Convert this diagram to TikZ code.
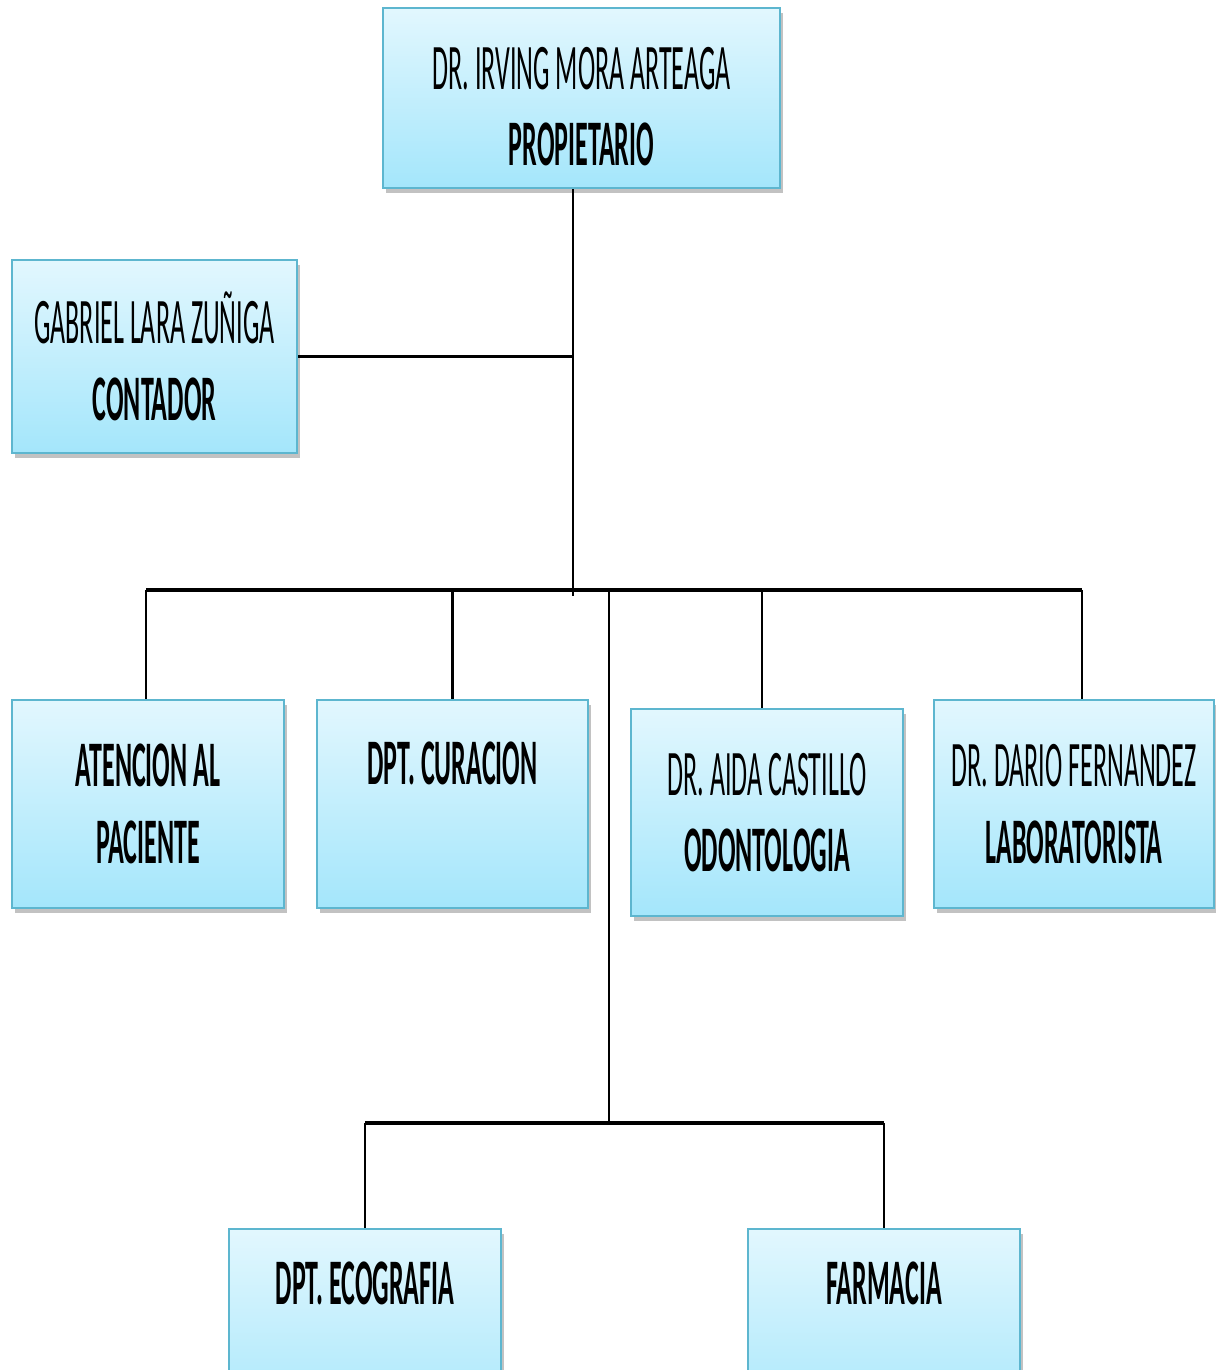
\documentclass[tikz,border=0pt]{standalone}
\usepackage{fontspec}
\setmainfont{Carlito}[FakeStretch=0.40]
\usetikzlibrary{shadows}

\definecolor{boxtop}{HTML}{E2F7FE}
\definecolor{boxbot}{HTML}{A4E6FB}
\definecolor{boxline}{HTML}{5DB6CF}

\tikzset{
  OrgBox/.style={draw=boxline,line width=1.2pt,top color=boxtop,bottom color=boxbot,
    drop shadow={shadow xshift=1.5pt,shadow yshift=-3pt,opacity=0.4,fill=black!60},
    align=center,inner sep=0pt,
    font=\fontsize{37pt}{43.5pt}\selectfont},
  EdgeStyle/.style={line width=1.4pt,black},
  BusStyle/.style={line width=2.2pt,black}
}

\begin{document}
\begin{tikzpicture}[x=0.02cm,y=-0.02cm]
  \useasboundingbox (0,0) rectangle (1216,1370);
  % boxes
  \node[OrgBox,minimum width=7.94cm,minimum height=3.6cm] (prop) at (581.5,98)
    {\rule{0pt}{1.2cm}DR. IRVING MORA ARTEAGA\\ \textbf{PROPIETARIO}};
  \node[OrgBox,minimum width=5.7cm,minimum height=3.86cm] (contador) at (154.5,356.5)
    {GABRIEL LARA ZU\~NIGA\\ \textbf{CONTADOR}};
  \node[OrgBox,minimum width=5.44cm,minimum height=4.16cm] (atencion) at (148,804)
    {\textbf{ATENCION AL}\\ \textbf{PACIENTE}};
  \node[OrgBox,minimum width=5.42cm,minimum height=4.16cm] (curacion) at (452.5,804)
    {\rule{0pt}{1.2cm}\textbf{DPT. CURACION}\\ \strut};
  \node[OrgBox,minimum width=5.44cm,minimum height=4.14cm] (odonto) at (767,812.5)
    {DR. AIDA CASTILLO\\ \textbf{ODONTOLOGIA}};
  \node[OrgBox,minimum width=5.6cm,minimum height=4.16cm] (lab) at (1074,804)
    {DR. DARIO FERNANDEZ\\ \textbf{LABORATORISTA}};
  \node[OrgBox,minimum width=5.44cm,minimum height=4.16cm] (eco) at (365,1333)
    {\textbf{DPT. ECOGRAFIA}\\ \strut};
  \node[OrgBox,minimum width=5.44cm,minimum height=4.16cm] (farm) at (884,1333)
    {\textbf{FARMACIA}\\ \strut};
  % connectors
  \coordinate (bus) at (573,590);
  \coordinate (busL) at (146,590);
  \coordinate (busR) at (1082,590);
  \coordinate (trunk) at (609,590);
  \coordinate (sub) at (609,1123);
  \draw[EdgeStyle] (prop.south -| bus) -- ([yshift=-0.12cm]bus);
  \draw[EdgeStyle] (contador.east) -- (contador.east -| bus);
  \draw[BusStyle] (busL) -- (busR);
  \draw[EdgeStyle] (busL) -- (atencion.north -| busL);
  \draw[EdgeStyle] (curacion.north |- busL) -- (curacion.north);
  \draw[EdgeStyle] ([xshift=-0.1cm]odonto.north |- busL) -- ([xshift=-0.1cm]odonto.north);
  \draw[EdgeStyle] (busR) -- (lab.north -| busR);
  \draw[EdgeStyle] (trunk) -- (sub);
  \draw[BusStyle] (sub -| eco.north) -- (sub -| farm.north);
  \draw[EdgeStyle] (sub -| eco.north) -- (eco.north);
  \draw[EdgeStyle] (sub -| farm.north) -- (farm.north);
\end{tikzpicture}
\end{document}
